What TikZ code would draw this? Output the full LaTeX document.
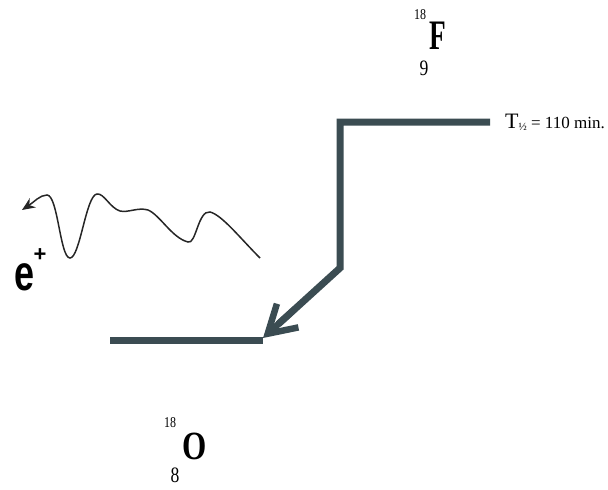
\documentclass[tikz,border=0pt]{standalone}
\usepackage{fontspec}
\setmainfont{Liberation Serif}
\newfontfamily\sansb{Liberation Sans}
\usetikzlibrary{arrows.meta,calc}
\definecolor{lvl}{HTML}{3B4C52}
\tikzset{
  level/.style={line width=7pt,draw=lvl},
  big/.style={font=\fontsize{42}{42}\selectfont\bfseries,inner sep=0pt},
  small/.style={font=\fontsize{15}{15}\selectfont,inner sep=0pt,xscale=0.8},
  zee/.style={font=\fontsize{22}{22}\selectfont,inner sep=0pt,xscale=0.8},
  wave/.style={line width=1.5pt,draw=black!85}
}
\begin{document}
\begin{tikzpicture}[x=1pt,y=-1pt]
\useasboundingbox (0,0) rectangle (608,490);
% 18F
\node[big,xscale=0.65] (F) at (438,36) {F};
\node[small] (Fa) at (420,15) {18};
\node[zee] (Fz) at (424,68) {9};
% 18O
\node[big,font=\fontsize{40}{40}\selectfont\bfseries,xscale=0.78] (O) at (195,446) {O};
\node[small] (Oa) at (170,423) {18};
\node[zee] (Oz) at (175,475) {8};
% levels
\coordinate (t1) at (340,122);
\coordinate (t2) at (490,122);
\coordinate (bend) at (340,268);
\coordinate (b1) at (110,340);
\coordinate (b2) at (263,340);
\coordinate (tip) at (263,338);
\draw[level] (b1) -- (b2);
\draw[level,line join=miter] (t2) -- (t1) -- (bend) -- ($(bend)!0.8!(tip)$);
\draw[lvl,line width=6.5pt,-{Straight Barb[length=27pt,width=32pt,line width=6.5pt]}] ($(bend)!0.6!(tip)$) -- (tip);
% half-life
\node[anchor=base west,inner sep=0pt,font=\fontsize{17}{17}\selectfont] (T) at (505,128) {{\fontsize{22}{22}\selectfont T}\raisebox{-2pt}{\fontsize{11}{11}\selectfont ½} = 110 min.};
% positron
\node[inner sep=0pt,font=\sansb\fontsize{50}{50}\selectfont\bfseries,xscale=0.72,anchor=base] (e) at (25,290) {e};
\node[inner sep=0pt,font=\sansb\fontsize{22}{22}\selectfont\bfseries] (ep) at (40,255) {+};
\coordinate (w0) at (260,258);
\coordinate (wtip) at (22,210);
\draw[wave,-{Stealth[length=13pt,width=11pt]}] (w0)
  .. controls (240,238) and (222,215) .. (210,212)
  .. controls (198,210) and (196,245) .. (188,242)
  .. controls (172,238) and (160,215) .. (148,210)
  .. controls (138,207) and (128,213) .. (120,211)
  .. controls (110,208) and (104,193) .. (97,194)
  .. controls (86,195) and (80,258) .. (70,258)
  .. controls (60,258) and (58,195) .. (47,195)
  .. controls (40,195) and (34,202) .. (wtip);
\end{tikzpicture}
\end{document}
